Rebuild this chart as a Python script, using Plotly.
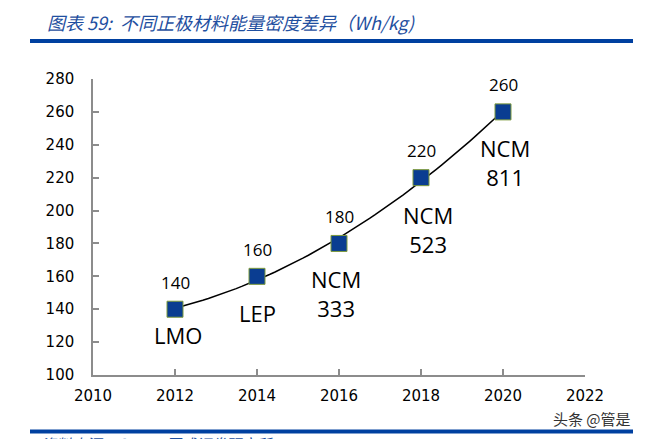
import numpy as np
import plotly.graph_objects as go

# Data
years = [2012, 2014, 2016, 2018, 2020]
energy_density = [140, 160, 180, 220, 260]
materials = ["LMO", "LEP", "NCM<br>333", "NCM<br>523", "NCM<br>811"]
x_ticks = [2010, 2012, 2014, 2016, 2018, 2020, 2022]
y_ticks = [100, 120, 140, 160, 180, 200, 220, 240, 260, 280]

title_text = "图表 59:  不同正极材料能量密度差异（Wh/kg)"
source_text = "资料来源：GMM，国成证券研究所"
watermark_text = "头条 @管是"

# Styling (label offsets in px: (xshift, yshift))
label_offsets = [(3, -26), (0, -37), (-3, -50), (7, -52), (2, -51)]
BLUE = "#0A3D91"
AXIS_GRAY = "#8c8c8c"

# page offset (browser body margin) compensation
OFF = 8

fig = go.Figure()

# Polynomial (order 2) trend line fitted to the data, as in the source chart
xs = np.array(years, dtype=float)
coef = np.polyfit(xs - xs.mean(), np.array(energy_density, dtype=float), 2)
x_line = np.linspace(xs.min(), xs.max(), 60)
y_line = np.polyval(coef, x_line - xs.mean())
fig.add_trace(go.Scatter(
    x=x_line, y=y_line, mode="lines",
    line=dict(color="black", width=1.5),
    hoverinfo="skip", showlegend=False,
))

# Markers
fig.add_trace(go.Scatter(
    x=years, y=energy_density, mode="markers",
    marker=dict(symbol="square", size=16, color=BLUE,
                line=dict(color="#7d9a3c", width=1)),
    showlegend=False,
))

annotations = []
for x, y, name, (dx, dy) in zip(years, energy_density, materials, label_offsets):
    annotations.append(dict(
        x=x, y=y, xref="x", yref="y", text=str(y), showarrow=False,
        yshift=27, font=dict(family="Open Sans", size=17, color="black"),
    ))
    annotations.append(dict(
        x=x, y=y, xref="x", yref="y", text=name, showarrow=False,
        xshift=dx, yshift=dy, align="center",
        font=dict(family="Open Sans", size=22, color="black"),
    ))

# Title
annotations.append(dict(
    x=45, y=22, xref="paper", yref="paper", text=title_text, showarrow=False,
    xanchor="left", yanchor="middle",
    font=dict(family="Noto Sans CJK SC", size=18, color="#1F4FA0", style="italic"),
))
# Watermark
annotations.append(dict(
    x=633, y=418, xref="paper", yref="paper", text=watermark_text, showarrow=False,
    xanchor="right", yanchor="middle",
    font=dict(family="Noto Sans CJK SC", size=15, color="#333333"),
))
# Source (clipped at the bottom in the reference)
annotations.append(dict(
    x=40, y=432, xref="paper", yref="paper", text=source_text, showarrow=False,
    xanchor="left", yanchor="top", borderpad=0,
    font=dict(family="Noto Sans CJK SC", size=15, color="#1F4FA0", style="italic"),
))

W, H = 646 - OFF, 439 - OFF
ML, MT = 93 - OFF, 79 - OFF
MR = W - (585 - OFF)
MB = H - (375 - OFF)
pw, ph = W - ML - MR, H - MT - MB

def px_x(p):
    return (p - OFF - ML) / pw

def px_y(p):
    return 1 - (p - OFF - MT) / ph

for a in annotations:
    if a["xref"] == "paper":
        a["x"] = px_x(a["x"])
        a["y"] = px_y(a["y"])

shapes = [
    dict(type="line", xref="paper", yref="paper",
         x0=px_x(30), x1=px_x(633), y0=px_y(41), y1=px_y(41),
         line=dict(color="#0040A0", width=4)),
    dict(type="line", xref="paper", yref="paper",
         x0=px_x(30), x1=px_x(633), y0=px_y(431.5), y1=px_y(431.5),
         line=dict(color="#0040A0", width=4)),
]

fig.update_layout(
    width=W, height=H,
    margin=dict(l=ML, r=MR, t=MT, b=MB),
    paper_bgcolor="white", plot_bgcolor="white",
    annotations=annotations, shapes=shapes,
    showlegend=False,
)

fig.update_xaxes(
    range=[2010, 2022], tickvals=x_ticks, ticktext=[str(v) for v in x_ticks],
    showgrid=False, zeroline=False, showline=True, linecolor=AXIS_GRAY, linewidth=1.5,
    ticks="inside", ticklen=6, tickcolor=AXIS_GRAY, tickwidth=1.5,
    tickfont=dict(family="DejaVu Sans", size=15, color="black"),
    ticklabelstandoff=6,
)
fig.update_yaxes(
    range=[100, 280], tickvals=y_ticks,
    showgrid=False, zeroline=False, showline=True, linecolor=AXIS_GRAY, linewidth=1.5,
    ticks="inside", ticklen=6, tickcolor=AXIS_GRAY, tickwidth=1.5,
    tickfont=dict(family="DejaVu Sans", size=15, color="black"),
    ticklabelstandoff=14,
)

fig.write_html("out.html")
